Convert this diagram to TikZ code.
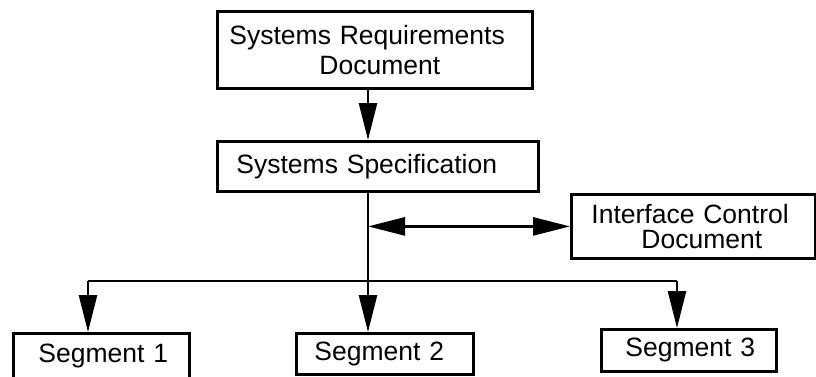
\documentclass[tikz,border=0pt]{standalone}
\usepackage{fontspec}
\setmainfont{Liberation Sans}
\usetikzlibrary{arrows.meta}
\begin{document}
\begin{tikzpicture}[x=1pt,y=-1pt,
  box/.style={draw, line width=2.8pt, inner ysep=0pt, align=left,
    font=\fontsize{26.5}{30}\selectfont, anchor=north west},
  conn/.style={line width=2.6pt},
  tip/.style={-{Triangle[length=37pt,width=18pt]}},
  dtip/.style={{Triangle[length=37pt,width=18pt]}-{Triangle[length=37pt,width=18pt]}}]
\useasboundingbox (0,0) rectangle (816,376);

\node[box, text width=291pt, inner xsep=12pt, minimum height=77pt] (srd) at (216,10)
  {Systems Requirements\\\hspace*{90pt}Document};
\node[box, text width=283pt, inner xsep=19pt, minimum height=50pt] (spec) at (216,140)
  {Systems Specification};
\node[box, text width=204pt, inner xsep=20pt, minimum height=64pt,
  font=\fontsize{26.5}{25}\selectfont] (icd) at (570,193)
  {Interface Control\\\hspace*{50pt}Document};
\node[box, text width=140pt, inner xsep=18pt, minimum height=46pt] (seg1) at (12,332)
  {\mbox{\hspace*{7pt}Segment 1}};
\node[box, text width=141pt, inner xsep=18pt, minimum height=41pt] (seg2) at (295,332)
  {\mbox{Segment 2}};
\node[box, text width=139pt, inner xsep=18pt, minimum height=42pt] (seg3) at (600,328)
  {\mbox{\hspace*{6pt}Segment 3}};

\coordinate (t) at (368,281);
\coordinate (b1) at (88,281);
\coordinate (b3) at (677,281);

\draw[conn, tip] (srd.south -| t) -- (spec.north -| t);
\draw[conn] (b1) -- (b3);
\draw[conn, tip] (spec.south -| t) -- (seg2.north -| t);
\draw[conn, tip] (b1) -- (seg1.north -| b1);
\draw[conn, tip] (b3) -- (seg3.north -| b3);
\draw[conn, dtip] (icd.west -| t) -- (icd.west);
\end{tikzpicture}
\end{document}
